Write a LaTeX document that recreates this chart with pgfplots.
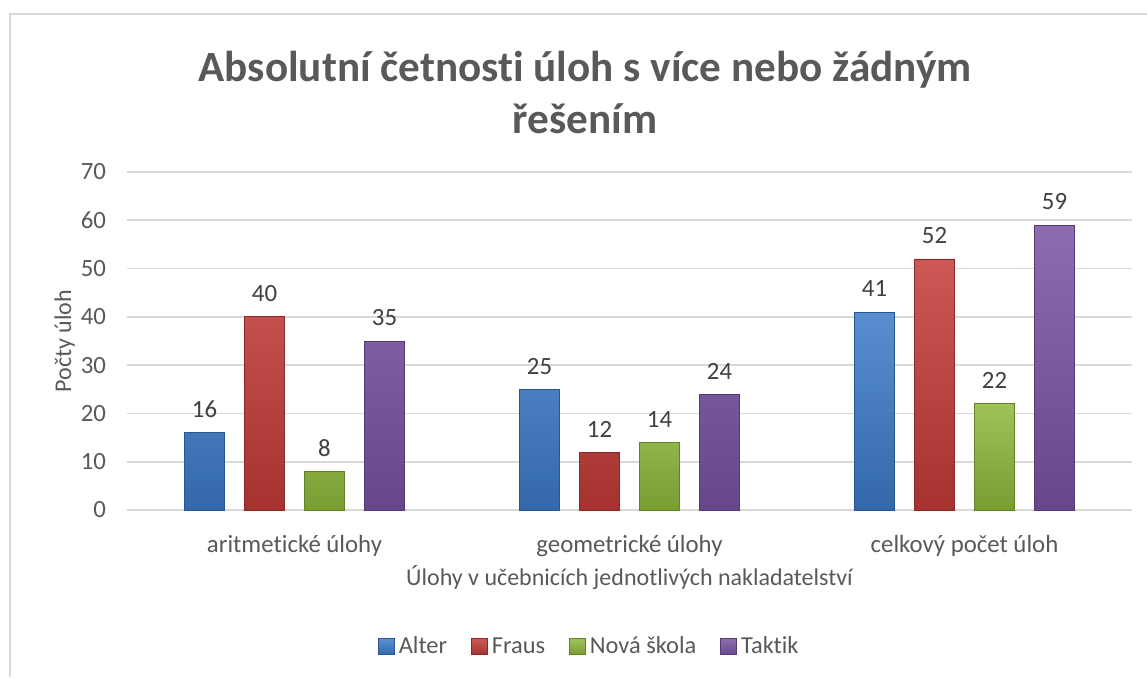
\documentclass[border=0pt]{standalone}
\usepackage{pgfplots}
\pgfplotsset{compat=1.18}
\usepackage{fontspec}
\setmainfont{Carlito}[RawFeature={-liga;-dlig;-calt;-clig}]
\definecolor{txt}{HTML}{595959}
\definecolor{lbl}{HTML}{404040}
\definecolor{gridc}{HTML}{D9D9D9}
\definecolor{cA}{HTML}{3B7BC8}
\definecolor{cB}{HTML}{C33B37}
\definecolor{cC}{HTML}{8DB83A}
\definecolor{cD}{HTML}{7953A3}
\pgfplotstableread{
x Alter Fraus Nova Taktik
0 16 40 8 35
1 25 12 14 24
2 41 52 22 59
}\data
\begin{document}
\begin{tikzpicture}
\fill[white] (0,0) rectangle (573.5pt,338.5pt);
\useasboundingbox (0,0) rectangle (573.5pt,338.5pt);
\draw[gridc, line width=1.2pt] (5pt,0) -- (5pt,331.5pt) -- (573.5pt,331.5pt);
\node[font=\fontsize{21.6pt}{26pt}\selectfont\bfseries, text=txt, align=center] at (292.5pt,292.5pt) {Absolutní četnost\kern0pt i úloh s více nebo žádným\\řešením};
\begin{axis}[
  at={(63.5pt,83.5pt)}, anchor=south west,
  scale only axis, width=502.5pt, height=169pt,
  xmin=-0.5, xmax=2.5, ymin=0, ymax=70,
  ytick={0,10,...,70},
  xtick=data,
  xticklabels={aritmetické úlohy, geometrické úlohy, celkový počet úloh},
  xmajorgrids=false, ymajorgrids=true,
  grid style={draw=gridc, line width=0.8pt},
  axis line style={draw=none},
  major tick length=0pt, tick style={draw=none},
  ybar=10pt, bar width=20pt,
  tick label style={font=\fontsize{12.4pt}{14pt}\selectfont, text=txt},
  /pgf/number format/assume math mode=true,
  yticklabel style={xshift=-7pt},
  xticklabel style={yshift=-9pt},
  xlabel={Úlohy v učebnicích jednotlivých nakladatelst\kern0pt ví},
  ylabel={Počty úloh},
  label style={font=\fontsize{12pt}{14pt}\selectfont, text=txt},
  xlabel style={yshift=2.5pt},
  ylabel style={yshift=-4pt},
  nodes near coords,
  every node near coord/.append style={font=\fontsize{12.4pt}{14pt}\selectfont, text=lbl, yshift=4pt},
  legend columns=4,
  legend style={at={(0.461,-0.405)}, anchor=center, draw=none, fill=none,
     font=\fontsize{12.2pt}{14pt}\selectfont, text=txt,
     /tikz/every even column/.append style={column sep=10pt}},
  legend image code/.code={\fill[#1] (0pt,-4pt) rectangle (8pt,4pt);},
]
\addplot[draw=cA!70!black, top color=cA!85!white, bottom color=cA!85!black] table[x=x,y=Alter]{\data};
\addplot[draw=cB!70!black, top color=cB!85!white, bottom color=cB!85!black] table[x=x,y=Fraus]{\data};
\addplot[draw=cC!70!black, top color=cC!85!white, bottom color=cC!85!black] table[x=x,y=Nova]{\data};
\addplot[draw=cD!70!black, top color=cD!85!white, bottom color=cD!85!black] table[x=x,y=Taktik]{\data};
\legend{Alter, Fraus, Nová škola, Taktik}
\end{axis}
\end{tikzpicture}
\end{document}
